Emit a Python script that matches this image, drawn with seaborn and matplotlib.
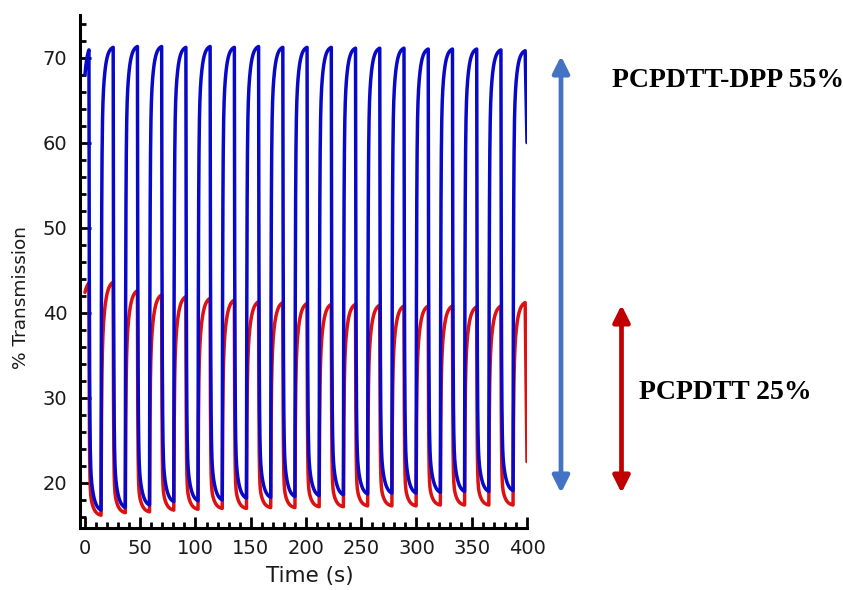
import numpy as np
import pandas as pd
import matplotlib
matplotlib.use("Agg")
import matplotlib.pyplot as plt
import seaborn as sns
from matplotlib.ticker import MultipleLocator
from matplotlib.patches import FancyArrowPatch

# ---------------- data ----------------
series_names = ["PCPDTT-DPP", "PCPDTT"]
series_colors = ["#0808C8", "#DC1212"]

switch_period = 21.93        # s, one bleach/colour cycle
first_switch = 3.6           # s, time of first high->low switch
t_end = 400.0

start_values = [68.0, 42.4]  # % T at t = 0
end_values = [60.0, 22.5]    # % T at t = 400

blue_peaks = [70.9, 71.2, 71.3, 71.3, 71.2, 71.3, 71.2, 71.3, 71.2, 71.2,
              71.2, 71.1, 71.1, 71.1, 71.0, 71.0, 71.0, 70.9, 70.8]
blue_troughs = [16.8, 17.1, 17.4, 17.8, 17.9, 18.0, 18.2, 18.3, 18.4,
                18.5, 18.6, 18.7, 18.8, 18.8, 18.9, 19.0, 19.0, 19.1]
red_peaks = [43.5, 43.6, 42.6, 42.1, 41.9, 41.7, 41.5, 41.3, 41.2, 41.1,
             41.0, 41.0, 40.9, 40.8, 40.8, 40.8, 40.7, 40.8, 41.2]
red_troughs = [16.2, 16.5, 16.6, 16.8, 16.9, 17.0, 17.0, 17.1, 17.1,
               17.2, 17.2, 17.3, 17.3, 17.3, 17.4, 17.4, 17.4, 17.4]

# switching kinetics (fast fraction, fast tau, slow tau) per series
rise_kinetics = [(0.78, 0.40, 2.5), (0.60, 0.45, 2.8)]
drop_kinetics = [(0.86, 0.40, 3.0), (0.86, 0.35, 3.0)]

x_ticks = [0, 50, 100, 150, 200, 250, 300, 350, 400]
y_ticks = [20, 30, 40, 50, 60, 70]


def response(x, a, tf, ts):
    return a * (1 - np.exp(-x / tf)) + (1 - a) * (1 - np.exp(-x / ts))


def build_trace(v_start, peaks, troughs, v_end, rk, dk):
    n = len(peaks)
    drops = first_switch + np.arange(n) * switch_period
    rises = drops[:-1] + switch_period / 2
    ts, vs = [], []

    def seg(t0, t1, v0, v1, k):
        x = np.linspace(0, t1 - t0, max(int((t1 - t0) / 0.1), 2), endpoint=False)
        r = response(x, *k) / response(t1 - t0, *k)
        ts.extend(t0 + x)
        vs.extend(v0 + (v1 - v0) * r)

    seg(0.0, drops[0], v_start, peaks[0], (0.0, 1.0, rk[2]))
    for k in range(n - 1):
        seg(drops[k], rises[k], peaks[k], troughs[k], dk)
        seg(rises[k], drops[k + 1], troughs[k], peaks[k + 1], rk)
    ts.extend([drops[-1], t_end])
    vs.extend([peaks[-1], v_end])
    return np.array(ts), np.array(vs)


frames = []
for i, (pk, tr) in enumerate([(blue_peaks, blue_troughs), (red_peaks, red_troughs)]):
    t, v = build_trace(start_values[i], pk, tr, end_values[i],
                       rise_kinetics[i], drop_kinetics[i])
    frames.append(pd.DataFrame({"Time": t, "T": v, "Series": series_names[i]}))
df = pd.concat(frames, ignore_index=True)

# ---------------- plot ----------------
sns.set_style("ticks")
plt.rcParams["font.family"] = ["DejaVu Sans"]

W, H = 843, 590
fig = plt.figure(figsize=(W / 100, H / 100), dpi=100)
ax = fig.add_axes([80 / W, 1 - 528 / H, (527 - 80) / W, (528 - 15) / H])

# red drawn first so that blue lies on top
sns.lineplot(data=df, x="Time", y="T", hue="Series",
             palette=dict(zip(series_names, series_colors)),
             hue_order=series_names[::-1], estimator=None, sort=False,
             linewidth=2.5, legend=False, ax=ax)

ax.set_xlim(-4.5, 400)
ax.set_ylim(14.7, 75)
ax.set_xticks(x_ticks)
ax.set_yticks(y_ticks)
ax.xaxis.set_minor_locator(MultipleLocator(10))
ax.yaxis.set_minor_locator(MultipleLocator(2))
sns.despine(ax=ax)
for s in ["left", "bottom"]:
    ax.spines[s].set_linewidth(2.2)
    ax.spines[s].set_color("black")
ax.tick_params(which="major", direction="in", length=8, width=2, labelsize=14,
               colors="black", labelcolor="#1a1a1a")
ax.tick_params(which="minor", direction="in", length=4.5, width=2, colors="black")
ax.tick_params(axis="x", which="major", pad=8)
ax.tick_params(axis="y", which="major", pad=9)

ax.set_xlabel("Time (s)", fontsize=15.5, color="#1a1a1a")
ax.set_ylabel("% Transmission", fontsize=13.3, color="#1a1a1a")
ax.xaxis.set_label_coords(0.515, -0.074)
ax.yaxis.set_label_coords(-0.112, 0.45)

# annotations
fig.text(612 / W, 1 - 87 / H, "PCPDTT-DPP 55%", fontfamily="Liberation Serif",
         fontweight="bold", fontsize=20, va="baseline", ha="left", color="black")
fig.text(639 / W, 1 - 399 / H, "PCPDTT 25%", fontfamily="Liberation Serif",
         fontweight="bold", fontsize=20, va="baseline", ha="left", color="black")

for xc, ytop, ybot, col in [(561, 54, 495, "#4472C4"), (621.5, 303, 495, "#C00000")]:
    arr = FancyArrowPatch((xc / W, 1 - (ybot - 2) / H), (xc / W, 1 - (ytop + 2) / H),
                          transform=fig.transFigure,
                          arrowstyle="<|-|>,head_length=1.0,head_width=0.5",
                          mutation_scale=10, color=col, lw=3.4,
                          shrinkA=0, shrinkB=0)
    fig.add_artist(arr)

fig.savefig("out.png", dpi=100)
